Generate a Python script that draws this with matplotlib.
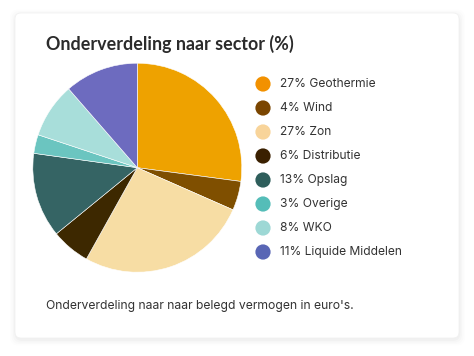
import numpy as np
import matplotlib.pyplot as plt
from matplotlib.patches import FancyBboxPatch

# sector shares (unrounded), and the rounded labels shown
sectors = ['Geothermie', 'Wind', 'Zon', 'Distributie', 'Opslag', 'Overige', 'WKO', 'Liquide Middelen']
shares = [27.1, 4.5, 26.5, 6.0, 13.1, 2.9, 8.5, 11.4]
labels_pct = [27, 4, 27, 6, 13, 3, 8, 11]

pie_colors = ['#EEA200', '#7F4F00', '#F7DDA4', '#3D2800', '#356464', '#6BC5C0', '#A8DEDA', '#6D6BBF']
dot_colors = ['#F29100', '#7A4500', '#F8D49A', '#3A2000', '#2E5E5B', '#55BDB8', '#9DD8D5', '#5966B5']

W, H = 474, 356
fig = plt.figure(figsize=(W / 100, H / 100), dpi=100)
fig.patch.set_facecolor('white')

# overlay axes in pixel coordinates for card, text and legend
bg = fig.add_axes([0, 0, 1, 1])
bg.set_xlim(0, W)
bg.set_ylim(H, 0)
bg.axis('off')

# soft shadow then card
for i, a in enumerate([0.02, 0.015, 0.01, 0.007]):
    d = 1 + i * 1.5
    bg.add_patch(FancyBboxPatch((15 - d + 0.5, 13 - d + 2), 444 + 2 * d, 325 + 2 * d,
                                boxstyle='round,pad=0,rounding_size=8',
                                fc='black', ec='none', alpha=a, zorder=0))
bg.add_patch(FancyBboxPatch((15, 13), 444, 325, boxstyle='round,pad=0,rounding_size=6',
                            fc='white', ec='#F0F0F0', lw=0.5, zorder=1))

bg.text(46, 44, 'Onderverdeling naar sector (%)', fontsize=12.9, fontweight='bold',
        color='#2B2B2B', family='Lato', va='center', ha='left', zorder=3)

ys = 84 + 24 * np.arange(len(sectors))
bg.scatter(np.full(len(sectors), 263), ys, s=120, c=dot_colors, edgecolors='none', zorder=3)
for y, p, name in zip(ys, labels_pct, sectors):
    bg.text(280, y, f'{p}% {name}', fontsize=8.65, color='#333333', family='Inter',
            va='center', ha='left', zorder=3)

bg.text(46, 306, "Onderverdeling naar naar belegd vermogen in euro's.", fontsize=8.75,
        color='#333333', family='Inter', va='center', ha='left', zorder=3)

# pie
cx, cy, r = 137.3, 167.7, 104.5
ax = fig.add_axes([(cx - r) / W, (H - cy - r) / H, 2 * r / W, 2 * r / H])
ax.pie(shares, colors=pie_colors, startangle=90, counterclock=False, radius=1,
       wedgeprops=dict(edgecolor='white', linewidth=0.4))
ax.set_xlim(-1, 1)
ax.set_ylim(-1, 1)
ax.set_aspect('equal')
ax.axis('off')

fig.savefig('out.png', dpi=100)
